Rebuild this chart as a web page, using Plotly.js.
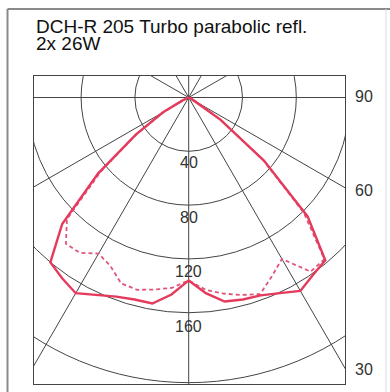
<!DOCTYPE html>
<html>
<head>
<meta charset="utf-8">
<script src="https://cdn.plot.ly/plotly-3.0.1.min.js"></script>
<style>html,body{margin:0;padding:0;background:#fff;}#chart{width:390px;height:392px;}</style>
</head>
<body>
<div id="chart"></div>
<script>
// Luminous intensity (cd/klm) versus gamma angle from nadir, degrees
const gammaDeg = [0,5,10,15,20,25,30,35,40,45,50,55,60,65,70,75,80,85,90];
// Solid curve: right half (C0) and left half (C180)
const solidRight = [136,146,154,155.5,156.5,160.5,166,161,158,125,73,29,8,2,0,0,0,0,0];
const solidLeft  = [136,147,155.5,155.5,157.5,162,168,164,160,133,88,48,22,5,0,0,0,0,0];
// Dashed curve: right half (C90) and left half (C270)
const dashedRight = [136,143.5,148,152,155.5,146.5,138.6,158,157,121,72,29,8,2,0,0,0,0,0];
const dashedLeft  = [136,142,145,148,147,138,134,141,142,128,85,47,21,4,0,0,0,0,0];
// Grid
const gridRadii = [40,80,120,160,212];
const gridLabels = ['40','80','120','160'];
const gridAngles = [0,30,60,90,120,150,180,210,240,270,300,330];
const sideLabels = ['90','60','30'];
const titleLine1 = 'DCH-R 205 Turbo parabolic refl.';
const titleLine2 = '2x 26W';

function curve(left, right){
  const x=[], y=[];
  for(let i=gammaDeg.length-1;i>=0;i--){
    const a=-gammaDeg[i]*Math.PI/180;
    x.push(left[i]*Math.sin(a)); y.push(-left[i]*Math.cos(a));
  }
  for(let i=1;i<gammaDeg.length;i++){
    const a=gammaDeg[i]*Math.PI/180;
    x.push(right[i]*Math.sin(a)); y.push(-right[i]*Math.cos(a));
  }
  return {x,y};
}
const red = '#e53a5c';
const s = curve(solidLeft, solidRight);
const d = curve(dashedLeft, dashedRight);
const traces = [
  {type:'scatter', mode:'lines', x:d.x, y:d.y, line:{color:'#e0557a', width:1.8, dash:'4px,3px'}, hoverinfo:'skip'},
  {type:'scatter', mode:'lines', x:s.x, y:s.y, line:{color:red, width:2.4}, hoverinfo:'skip'}
];

const gridColor = '#444';
const shapes = [];
gridRadii.forEach(R=>shapes.push({type:'circle', xref:'x', yref:'y', x0:-R, x1:R, y0:-R, y1:R, line:{color:gridColor, width:1}, layer:'below'}));
gridAngles.forEach(a=>{
  const t=a*Math.PI/180, L=400;
  shapes.push({type:'line', xref:'x', yref:'y', x0:0, y0:0, x1:L*Math.sin(t), y1:-L*Math.cos(t), line:{color:gridColor, width:1}, layer:'below'});
});
// outer frame
shapes.push({type:'line', xref:'paper', yref:'paper', x0:-0.0852, x1:-0.0852, y0:1.2175, y1:-0.05, line:{color:'#8a8a8a', width:2}});
shapes.push({type:'line', xref:'paper', yref:'paper', x0:-0.0852, x1:1.2, y0:1.2175, y1:1.2175, line:{color:'#8a8a8a', width:2}});
shapes.push({type:'line', xref:'paper', yref:'paper', x0:1.1318, x1:1.1318, y0:1.2175, y1:-0.05, line:{color:'#dddddd', width:1}});

const font = 'Liberation Sans, Arial, sans-serif';
const annotations = [];
const labelY = [-48.3,-89.2,-129.7,-169.9];
gridLabels.forEach((t,i)=>annotations.push({xref:'x', yref:'y', x:0, y:labelY[i], text:t, showarrow:false, xanchor:'center', yanchor:'middle', font:{family:font, size:16, color:'#333'}}));
const sideY = [1.1,-68.8,-201.9];
sideLabels.forEach((t,i)=>annotations.push({xref:'paper', yref:'y', x:1.026, y:sideY[i], text:t, showarrow:false, xanchor:'left', yanchor:'middle', font:{family:font, size:16, color:'#333'}}));
annotations.push({xref:'paper', yref:'paper', x:0.0, y:1.161, text:titleLine1, showarrow:false, xanchor:'left', yanchor:'middle', font:{family:font, size:19, color:'#111'}});
annotations.push({xref:'paper', yref:'paper', x:0.0, y:1.106, text:titleLine2, showarrow:false, xanchor:'left', yanchor:'middle', font:{family:font, size:19, color:'#111'}});

const layout = {
  width:390, height:392,
  margin:{l:34, r:45, t:76, b:8},
  paper_bgcolor:'#ffffff', plot_bgcolor:'#ffffff',
  showlegend:false,
  xaxis:{range:[-115.0,116.2], showgrid:false, zeroline:false, showticklabels:false, ticks:'', showline:true, mirror:true, linecolor:gridColor, linewidth:1},
  yaxis:{range:[-213.0,16.0], showgrid:false, zeroline:false, showticklabels:false, ticks:'', showline:true, mirror:true, linecolor:gridColor, linewidth:1},
  shapes, annotations
};
Plotly.newPlot('chart', traces, layout, {staticPlot:true, displayModeBar:false});
</script>
</body>
</html>
